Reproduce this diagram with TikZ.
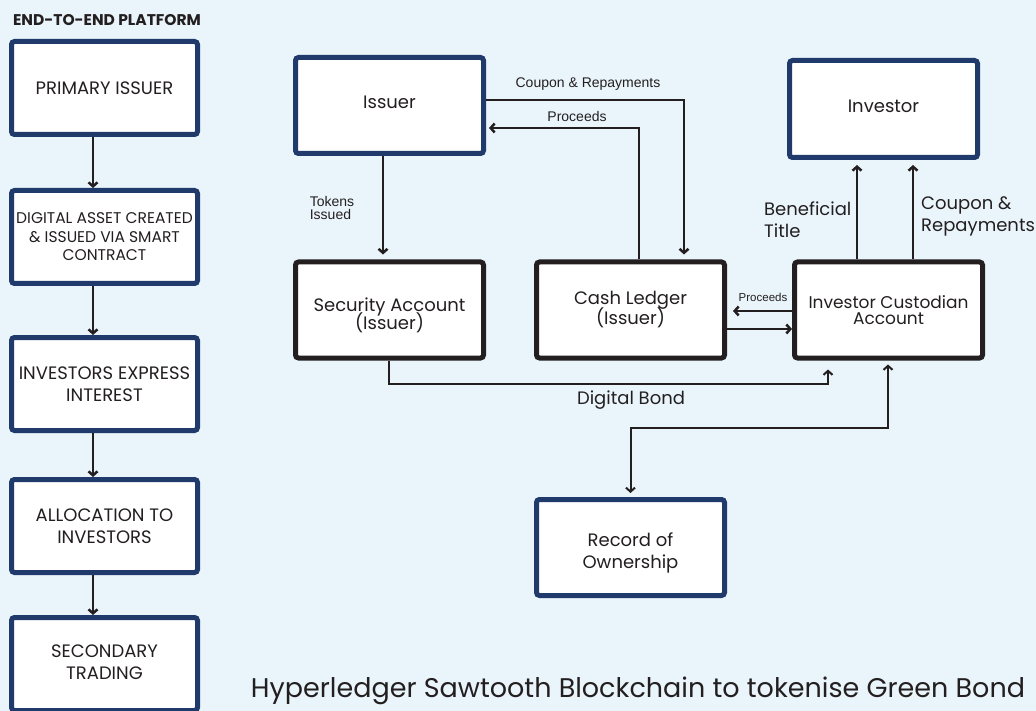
\documentclass[tikz,border=0pt]{standalone}
\usepackage{fontspec}
\setmainfont{Poppins}
\newfontfamily\arialfont{Liberation Sans}
\usetikzlibrary{positioning}
\usetikzlibrary{calc}
\usetikzlibrary{arrows.meta}
\definecolor{bgblue}{RGB}{234,245,251}
\definecolor{navy}{RGB}{31,58,107}
\definecolor{ink}{RGB}{35,31,32}
\tikzset{
  bluebox/.style={draw=navy, line width=5pt, fill=white, rounded corners=3pt, text=ink,
    minimum width=188pt, minimum height=96pt, align=center, font=\fontsize{18}{22}\selectfont},
  blackbox/.style={bluebox, draw=ink},
  stepbox/.style={bluebox, minimum width=186pt, minimum height=93pt},
  flow/.style={draw=ink, line width=2.5pt, -{Straight Barb[length=4pt,width=9pt]}},
  thinflow/.style={flow, line width=2pt},
  lbl/.style={text=ink, inner sep=0pt, font=\fontsize{18}{22}\selectfont, align=left},
  smalllbl/.style={text=ink, inner sep=0pt, font=\arialfont\fontsize{14}{13}\selectfont, align=left}
}
\begin{document}
\begin{tikzpicture}[x=1pt, y=-1pt]
\useasboundingbox (0,0) rectangle (1036,711);
\clip (0,0) rectangle (1036,711);
\fill[bgblue] (0,0) rectangle (1036,711);
% platform column
\node[text=ink] (header) at (107,20) {\bfseries\fontsize{15.5}{18}\selectfont END-TO-END PLATFORM};
\node[stepbox] (prim) at (104.5,88) {PRIMARY ISSUER};
\node[stepbox, font=\fontsize{15.5}{18.5}\selectfont] (asset) at (104.5,237) {DIGITAL ASSET CREATED\\\& ISSUED VIA SMART\\CONTRACT};
\node[stepbox] (express) at (104.5,384) {INVESTORS EXPRESS\\INTEREST};
\node[stepbox] (alloc) at (104.5,526) {ALLOCATION TO\\INVESTORS};
\node[stepbox] (second) at (104.5,664) {SECONDARY\\TRADING\rule[-4pt]{0pt}{4pt}};
\draw[flow] ([xshift=-11.5pt]prim.south) -- ([xshift=-11.5pt]asset.north);
\draw[flow] ([xshift=-11.5pt]asset.south) -- ([xshift=-11.5pt]express.north);
\draw[flow] ([xshift=-11.5pt]express.south) -- ([xshift=-11.5pt]alloc.north);
\draw[flow] ([xshift=-11.5pt]alloc.south) -- ([xshift=-11.5pt]second.north);
% bond flow
\node[bluebox] (issuer) at (389.5,105.5) {Issuer\rule[-6pt]{0pt}{6pt}};
\node[blackbox] (secacc) at (389.5,310) {\rule{0pt}{24pt}Security Account\\[-4pt](Issuer)};
\node[blackbox] (cash) at (630.5,310) {Cash Ledger\\[-2pt](Issuer)};
\node[blackbox, font=\fontsize{17}{16}\selectfont] (custod) at (888.5,310) {Investor Custodian\\Account};
\node[bluebox, minimum height=97pt] (investor) at (883.5,109) {Investor\rule[-6pt]{0pt}{6pt}};
\node[bluebox] (record) at (630.5,547.5) {\rule{0pt}{24pt}Record of\\Ownership};
\draw[flow, shorten >=5pt] ([xshift=-6.5pt]issuer.south) -- ([xshift=-6.5pt]secacc.north);
\node[smalllbl] (tokens) at (332,208) {Tokens\\Issued};
\draw[flow, shorten >=5pt] ([yshift=5.5pt]issuer.east) -| ([xshift=53.5pt]cash.north);
\node[smalllbl] (coupon) at (588,84) {Coupon \& Repayments};
\draw[flow, shorten >=3pt] ([xshift=8.5pt]cash.north) |- ([yshift=-22.5pt]issuer.east);
\node[smalllbl] (proceeds) at (577,116) {Proceeds};
\draw[flow, shorten >=6pt] ([yshift=-1pt]custod.west) -- ([yshift=-1pt]cash.east);
\node[smalllbl, font=\arialfont\fontsize{11.5}{12}\selectfont] (proceeds2) at (763,297) {Proceeds};
\draw[flow] ([yshift=-19pt]cash.east) -- ([yshift=-19pt]custod.west);
\coordinate (title) at ([xshift=-31.5pt]custod.north);
\coordinate (repay) at ([xshift=24.5pt]custod.north);
\draw[flow, shorten >=5pt] (title) -- (title |- investor.south);
\draw[flow, shorten >=5pt] (repay) -- (repay |- investor.south);
\node[lbl, anchor=west] (benef) at (764,220) {Beneficial\\Title};
\node[lbl, anchor=west] (repaylbl) at (921,216) {Coupon \&\\Repayments};
\draw[thinflow, shorten >=9pt] ([xshift=-0.5pt]secacc.south) -- ++(0,23) -| ([xshift=-60.5pt]custod.south);
\node[lbl] (bond) at (631,400) {Digital Bond};
\draw[thinflow, {Straight Barb[length=4pt,width=9pt]}-{Straight Barb[length=4pt,width=9pt]}, shorten <=4pt, shorten >=4pt]
  ([xshift=-0.5pt]custod.south) -- ++(0,67) -| (record.north);
\node[text=ink] (caption) at (638,691) {\fontsize{27}{30}\selectfont Hyperledger Sawtooth Blockchain to tokenise Green Bond};
\end{tikzpicture}
\end{document}
